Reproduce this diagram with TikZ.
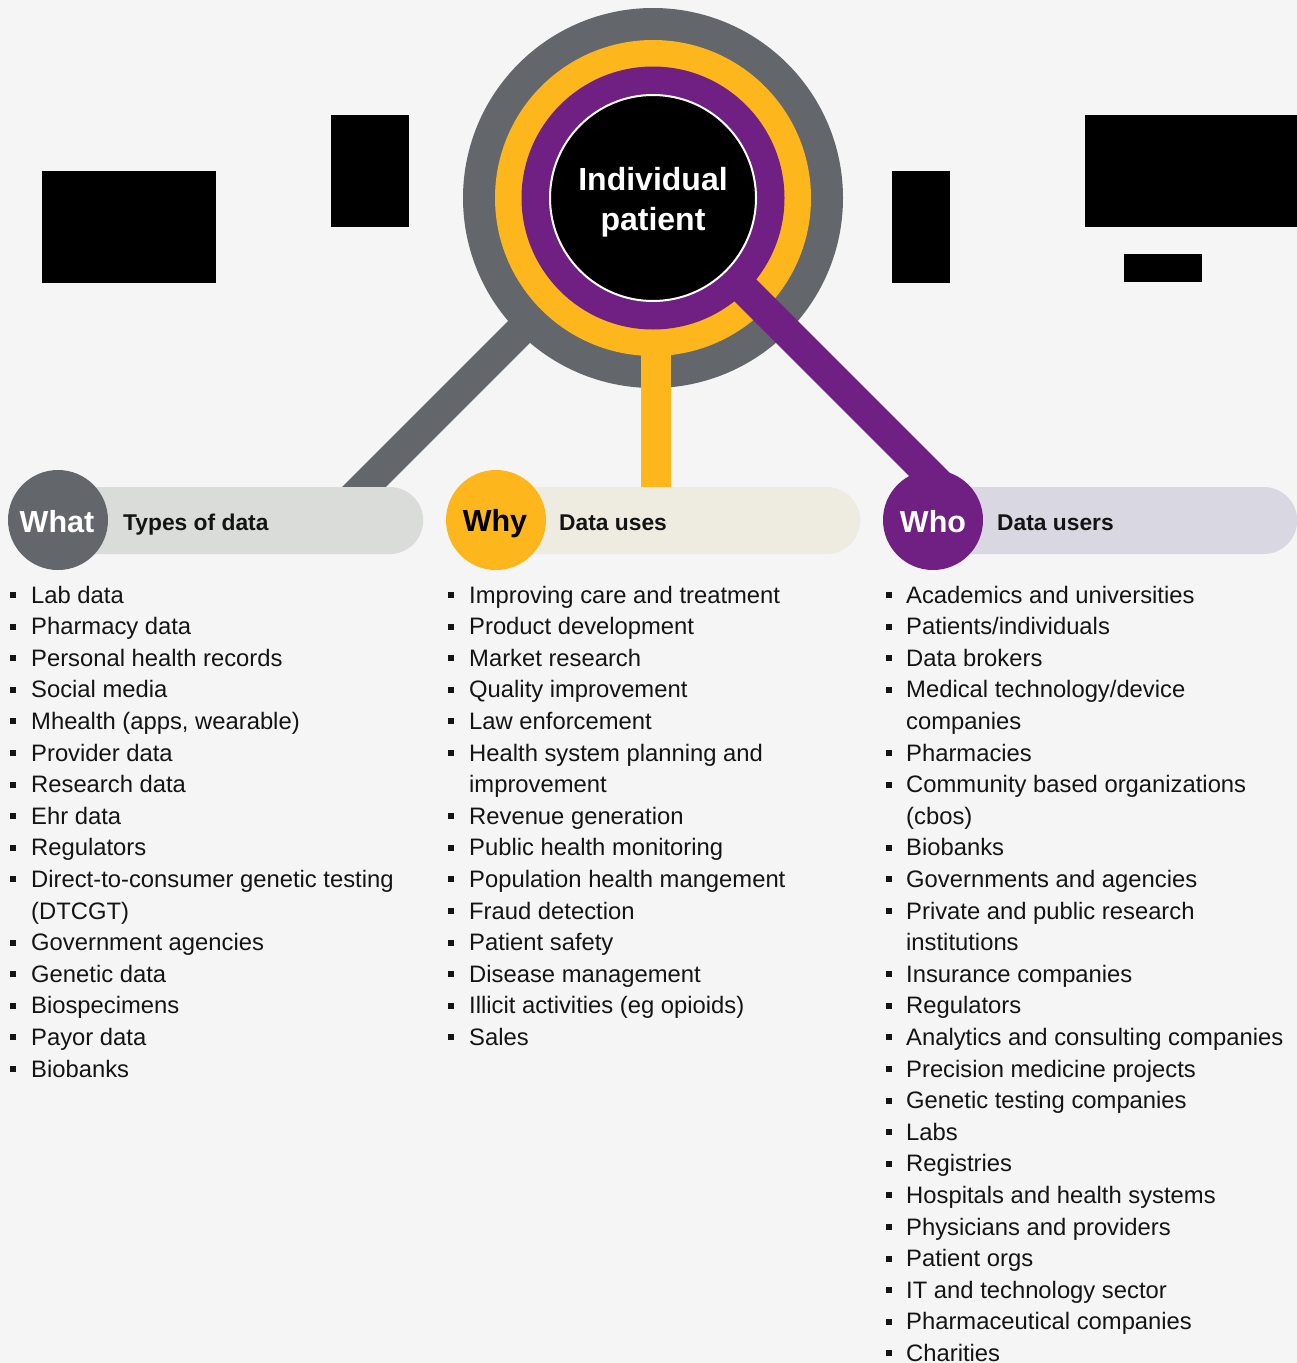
\documentclass[tikz,border=0pt]{standalone}
\usepackage{fontspec}
\setmainfont{Liberation Sans}
\definecolor{bg}{HTML}{F5F5F5}
\definecolor{cgray}{HTML}{63666A}
\definecolor{cyellow}{HTML}{FDB71D}
\definecolor{cpurple}{HTML}{702082}
\definecolor{pillgray}{HTML}{DADCD9}
\definecolor{pillcream}{HTML}{EEECE0}
\definecolor{pilllav}{HTML}{D9D7E2}
\definecolor{txt}{HTML}{141414}
\begin{document}
\begin{tikzpicture}[x=1pt,y=-1pt,
  disk/.style={circle,inner sep=0pt,draw=none},
  bar/.style={line width=31pt},
  pill/.style={rectangle,rounded corners=33.5pt,minimum height=67pt,inner sep=0pt,anchor=west,draw=none},
  head/.style={circle,inner sep=0pt,minimum size=100pt,draw=none},
  headtxt/.style={anchor=base,inner sep=0pt,font=\fontsize{30.5}{34}\selectfont\bfseries},
  titletxt/.style={anchor=base west,inner sep=0pt,text=txt,font=\fontsize{22.8}{26}\selectfont\bfseries},
  item/.style={anchor=base west,inner sep=0pt,text depth=0pt,text=txt,font=\fontsize{23.8}{28}\selectfont},
  bul/.style={rectangle,fill=txt,minimum size=6pt,inner sep=0pt},
  redact/.style={fill=black}
]
\fill[bg] (0,0) rectangle (1297,1363);
\useasboundingbox (0,0) rectangle (1297,1363);

% central target
\node[disk,fill=cgray,minimum size=380pt] (ring1) at (653,198) {};
\coordinate (gEnd) at (351,500);
\draw[bar,cgray] (ring1.center) -- (gEnd);
\node[disk,fill=cyellow,minimum size=316pt] (ring2) at (653,198) {};
\coordinate (yTop) at (656,198);
\coordinate (yEnd) at (656,500);
\draw[bar,cyellow,line width=30pt] (yTop) -- (yEnd);
\node[disk,fill=cpurple,minimum size=263pt] (ring3) at (653,198) {};
\coordinate (pEnd) at (945,490);
\draw[bar,cpurple] (ring3.center) -- (pEnd);
\node[disk,fill=black,draw=white,line width=2pt,minimum size=206pt] (core) at (653,198) {};
\node[text=white,align=center,inner sep=0pt,font=\fontsize{32}{39.5}\selectfont\bfseries] (coretxt) at (653,202) {Individual\\patient};

% headers
\node[pill,fill=pillgray,minimum width=365pt] (pWhat) at (58,520.5) {};
\node[pill,fill=pillcream,minimum width=364pt] (pWhy) at (496,520.5) {};
\node[pill,fill=pilllav,minimum width=364pt] (pWho) at (933,520.5) {};
\node[head,fill=cgray] (cWhat) at (58,520) {};
\node[head,fill=cyellow] (cWhy) at (496,520) {};
\node[head,fill=cpurple] (cWho) at (933,520) {};
\node[headtxt,text=white] (tWhat) at (57,532) {What};
\node[headtxt,text=black] (tWhy) at (495,531) {Why};
\node[headtxt,text=white] (tWho) at (933,532) {Who};
\node[titletxt] (sWhat) at (123,530) {Types of data};
\node[titletxt] (sWhy) at (559,530) {Data uses};
\node[titletxt] (sWho) at (997,530) {Data users};

% lists
\foreach \b/\t [count=\i from 0] in {1/Lab data,1/Pharmacy data,1/Personal health records,1/Social media,1/{Mhealth (apps, wearable)},1/Provider data,1/Research data,1/Ehr data,1/Regulators,1/Direct-to-consumer genetic testing,0/(DTCGT),1/Government agencies,1/Genetic data,1/Biospecimens,1/Payor data,1/Biobanks}{
  \node[item] (wt\i) at (31,{603+31.6*\i}) {\t};
  \ifnum\b=1 \node[bul] (wb\i) at (13,{595+31.6*\i}) {};\fi
}
\foreach \b/\t [count=\i from 0] in {1/Improving care and treatment,1/Product development,1/Market research,1/Quality improvement,1/Law enforcement,1/Health system planning and,0/improvement,1/Revenue generation,1/Public health monitoring,1/Population health mangement,1/Fraud detection,1/Patient safety,1/Disease management,1/{Illicit activities (eg opioids)},1/Sales}{
  \node[item] (yt\i) at (469,{603+31.6*\i}) {\t};
  \ifnum\b=1 \node[bul] (yb\i) at (451,{595+31.6*\i}) {};\fi
}
\foreach \b/\t [count=\i from 0] in {1/Academics and universities,1/Patients\slash individuals,1/Data brokers,1/Medical technology\slash device,0/companies,1/Pharmacies,1/Community based organizations,0/(cbos),1/Biobanks,1/Governments and agencies,1/Private and public research,0/institutions,1/Insurance companies,1/Regulators,1/Analytics and consulting companies,1/Precision medicine projects,1/Genetic testing companies,1/Labs,1/Registries,1/Hospitals and health systems,1/Physicians and providers,1/Patient orgs,1/IT and technology sector,1/Pharmaceutical companies,1/Charities}{
  \node[item] (ot\i) at (906,{603+31.6*\i}) {\t};
  \ifnum\b=1 \node[bul] (ob\i) at (888.5,{595+31.6*\i}) {};\fi
}

% redacted blocks
\fill[redact] (42,171) rectangle (216,283);
\fill[redact] (331,115) rectangle (409,227);
\fill[redact] (892,171) rectangle (950,283);
\fill[redact] (1085,115) rectangle (1297,227);
\fill[redact] (1124,254) rectangle (1202,282);
\end{tikzpicture}
\end{document}
